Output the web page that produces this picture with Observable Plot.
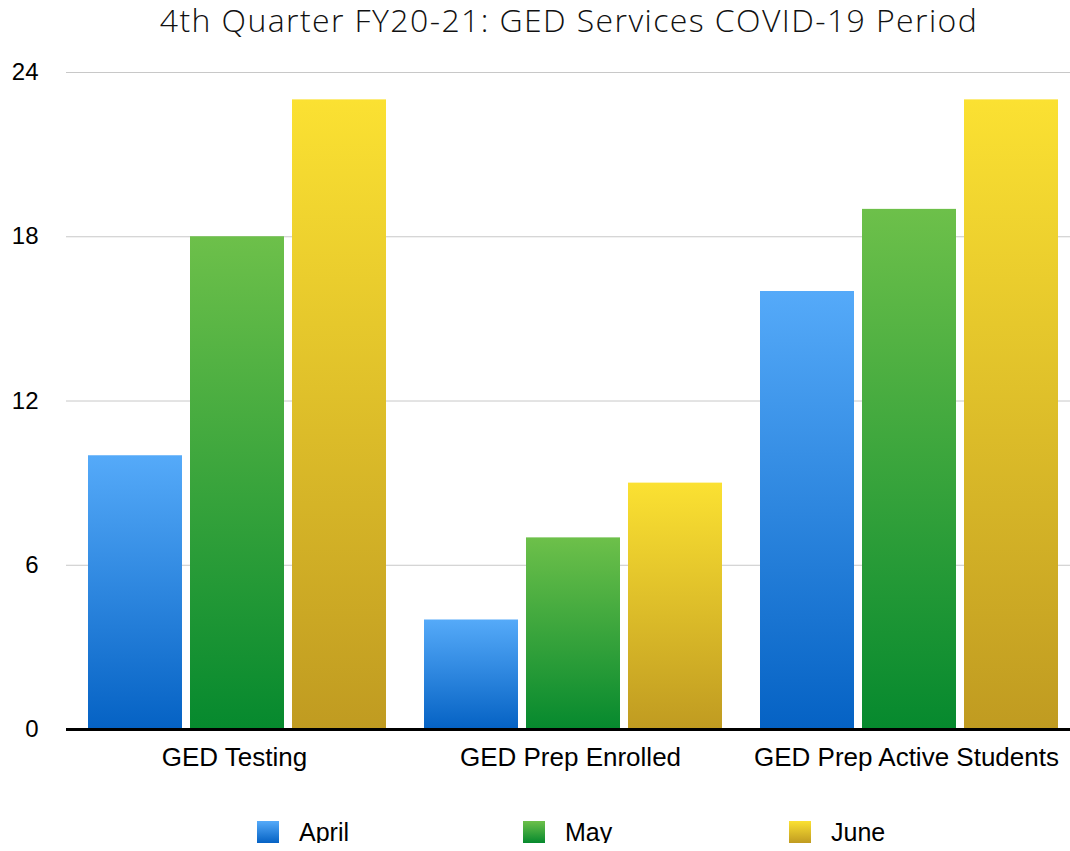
<!DOCTYPE html>
<html>
<head>
<meta charset="utf-8">
<script src="https://cdn.jsdelivr.net/npm/d3@7"></script>
<script src="https://cdn.jsdelivr.net/npm/@observablehq/plot@0.6"></script>
<style>
  body { margin: 0; background: #fff; width: 1070px; overflow: hidden; }
  #title { height: 40px; line-height: 40px; padding-left: 68px; text-align: center;
    font-family: "Open Sans", sans-serif; font-weight: 300; font-size: 32px; letter-spacing: 1.4px; color: #111; white-space: nowrap; }
  #legend { display: flex; padding-left: 257px; padding-top: 32px;
    font-family: "Liberation Sans", Arial, sans-serif; font-size: 25px; color: #000; }
  .item { display: flex; align-items: center; width: 266px; height: 22px; }
  .sw { width: 22px; height: 22px; margin-right: 20px; }
</style>
</head>
<body>
<div id="title">4th Quarter FY20-21: GED Services COVID-19 Period</div>
<div id="chart"></div>
<div id="legend"></div>
<script>
const categories = ["GED Testing", "GED Prep Enrolled", "GED Prep Active Students"];
const months = ["April", "May", "June"];
const april = [10, 4, 16];
const may = [18, 7, 19];
const june = [23, 9, 23];
const yTicks = [0, 6, 12, 18, 24];
const gradTop = ["#55aaf9", "#6dc04a", "#fbe132"];
const gradBottom = ["#0562c4", "#06892e", "#c09b21"];

const series = [april, may, june];
const data = [];
categories.forEach((c, i) => months.forEach((m, j) => data.push({category: c, month: m, value: series[j][i]})));

const ids = months.map(m => "grad" + m);

const chart = Plot.plot({
  width: 1070,
  height: 749,
  marginTop: 32,
  marginBottom: 60,
  marginLeft: 66,
  marginRight: -4,
  style: {fontFamily: "'Liberation Sans', Arial, sans-serif", color: "#000", background: "#fff", overflow: "hidden"},
  fx: {domain: categories, paddingInner: 0, paddingOuter: 0, label: null},
  x: {domain: months, paddingInner: 0.08, paddingOuter: 0.186, align: 0.579, axis: null},
  y: {domain: [0, 24], label: null},
  color: {domain: months, range: ids.map(id => `url(#${id})`)},
  marks: [
    Plot.gridY(yTicks, {stroke: "#c8c8c8", strokeOpacity: 1, strokeWidth: 1}),
    Plot.axisY(yTicks, {tickSize: 0, tickPadding: 28, fontSize: 24, label: null}),
    Plot.axisFx({anchor: "bottom", tickSize: 0, tickPadding: 18, fontSize: 26, fontWeight: "normal", label: null}),
    Plot.barY(data, {fx: "category", x: "month", y: "value", fill: "month"}),
    Plot.ruleY([0], {stroke: "#000", strokeWidth: 3})
  ]
});

const svg = d3.select(chart.tagName.toLowerCase() === "svg" ? chart : chart.querySelector("svg"));
const defs = svg.insert("defs", ":first-child");
months.forEach((m, j) => {
  const g = defs.append("linearGradient").attr("id", ids[j]).attr("x1", 0).attr("y1", 0).attr("x2", 0).attr("y2", 1);
  g.append("stop").attr("offset", "0%").attr("stop-color", gradTop[j]);
  g.append("stop").attr("offset", "100%").attr("stop-color", gradBottom[j]);
});
document.getElementById("chart").appendChild(chart);

const legend = d3.select("#legend");
months.forEach((m, j) => {
  const it = legend.append("div").attr("class", "item");
  it.append("div").attr("class", "sw").style("background", `linear-gradient(${gradTop[j]}, ${gradBottom[j]})`);
  it.append("span").text(m);
});
</script>
</body>
</html>
